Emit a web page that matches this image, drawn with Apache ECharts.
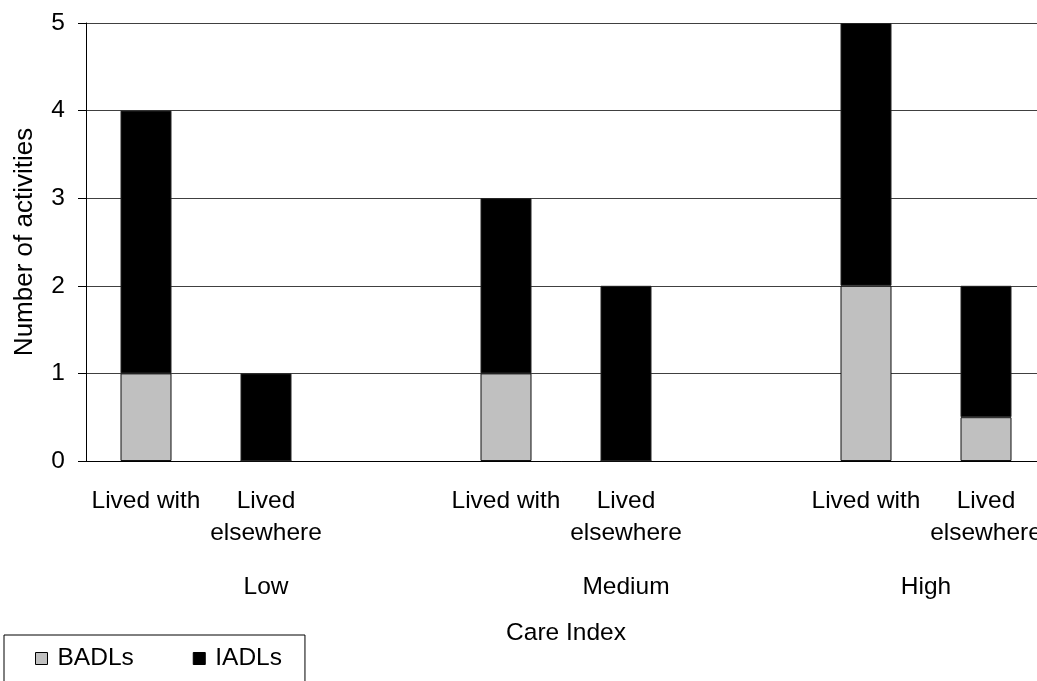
<!DOCTYPE html>
<html>
<head>
<meta charset="utf-8">
<script src="https://cdn.jsdelivr.net/npm/echarts@6/dist/echarts.min.js"></script>
<style>
html,body{margin:0;padding:0;background:#fff;}
#chart{width:1037px;height:681px;}
</style>
</head>
<body>
<div id="chart"></div>
<script>
const categories = ['Lived with', 'Lived\nelsewhere', '', 'Lived with', 'Lived\nelsewhere', '', 'Lived with', 'Lived\nelsewhere'];
const groupNames = ['Low', 'Medium', 'High'];
const groupSpans = [3, 3, 2];
const badls = [1, 0, null, 1, 0, null, 2, 0.5];
const iadls = [3, 1, null, 2, 2, null, 3, 1.5];
const yTicks = [0, 1, 2, 3, 4, 5];

const FONT = 'Liberation Sans, Arial, sans-serif';
const groupCenters = {};
let acc = 0;
groupSpans.forEach((s, i) => { groupCenters[(acc + s / 2).toFixed(2)] = groupNames[i]; acc += s; });

const chart = echarts.init(document.getElementById('chart'), null, {renderer: 'canvas'});
chart.setOption({
  animation: false,
  backgroundColor: '#fff',
  textStyle: {fontFamily: FONT, color: '#000'},
  grid: {left: 86, top: 23, right: -9, bottom: 220, containLabel: false, outerBoundsMode: 'none'},
  legend: {
    left: 4, top: 635,
    data: ['BADLs', 'IADLs'],
    icon: 'rect', itemWidth: 12, itemHeight: 12, itemGap: 59,
    padding: [11, 23, 12, 31],
    borderColor: '#000', borderWidth: 1,
    textStyle: {fontSize: 24.5, color: '#000', fontFamily: FONT, padding: [0, 0, 0, 5]},
    itemStyle: {borderColor: '#000', borderWidth: 1}
  },
  xAxis: [{
    type: 'category',
    data: categories,
    axisLine: {lineStyle: {color: '#000', width: 1}},
    axisTick: {show: false},
    axisLabel: {interval: 0, fontSize: 24.5, lineHeight: 32, color: '#000', margin: 24, fontFamily: FONT, verticalAlign: 'top'}
  }, {
    type: 'value',
    min: 0, max: categories.length, interval: 0.5,
    position: 'bottom',
    axisLine: {show: false}, axisTick: {show: false}, splitLine: {show: false},
    axisLabel: {
      fontSize: 24.5, color: '#000', margin: 114, fontFamily: FONT,
      formatter: v => groupCenters[v.toFixed(2)] || ''
    },
    name: 'Care Index', nameLocation: 'middle', nameGap: 160,
    nameTextStyle: {fontSize: 24.5, color: '#000', fontFamily: FONT}
  }],
  yAxis: {
    type: 'value', min: 0, max: 5, interval: 1,
    name: 'Number of activities', nameLocation: 'middle', nameGap: 48,
    nameTextStyle: {fontSize: 26, color: '#000', fontFamily: FONT},
    axisLine: {show: true, lineStyle: {color: '#000', width: 1}},
    axisTick: {show: true, length: 8, lineStyle: {color: '#000'}},
    axisLabel: {fontSize: 24.5, color: '#000', margin: 21, fontFamily: FONT,
      formatter: v => yTicks.includes(v) ? String(v) : ''},
    splitLine: {show: true, lineStyle: {color: '#404040', width: 1}}
  },
  series: [{
    name: 'BADLs', type: 'bar', stack: 'a', data: badls, barWidth: 51,
    itemStyle: {color: '#c0c0c0', borderColor: '#111', borderWidth: 1}
  }, {
    name: 'IADLs', type: 'bar', stack: 'a', data: iadls, barWidth: 51,
    itemStyle: {color: '#000', borderColor: '#222', borderWidth: 1}
  }]
});
</script>
</body>
</html>
